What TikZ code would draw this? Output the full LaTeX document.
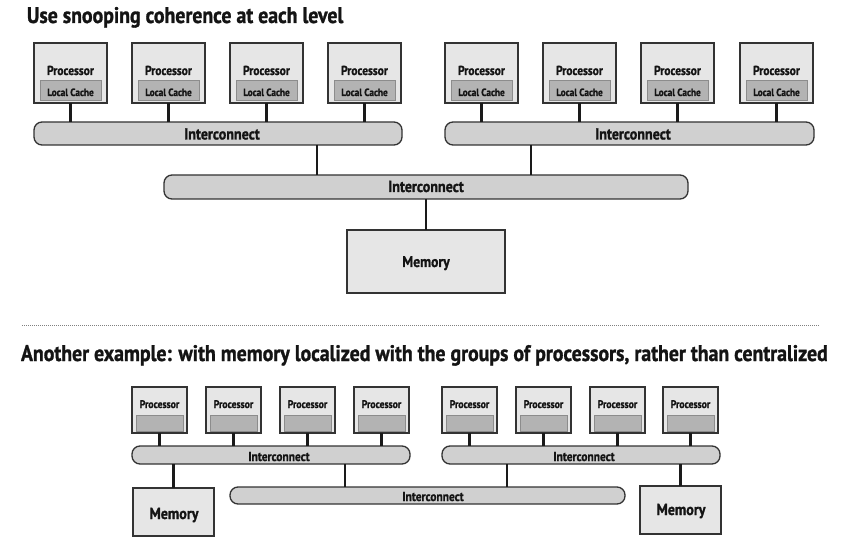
\documentclass[tikz,border=0pt]{standalone}
\usepackage{fontspec}
\newfontfamily\cf{PT Sans}[FakeStretch=0.88, BoldFeatures={FakeBold=1.2}]
\definecolor{boxfill}{HTML}{E6E6E6}
\definecolor{cachefill}{HTML}{B3B3B3}
\definecolor{cachebord}{HTML}{8C8C8C}
\definecolor{icfill}{HTML}{D0D0D0}
\definecolor{bord}{HTML}{333333}
\definecolor{wirec}{HTML}{1A1A1A}
\definecolor{txt}{HTML}{141414}
\newcommand\mybox[7]{%
  \node[#2, minimum width={((#5)-(#3))*1pt}, minimum height={((#6)-(#4))*1pt}]
    (#1) at ({((#3)+(#5))/2},{((#4)+(#6))/2}) {#7};}
\newcommand\fs[1]{\fontsize{#1}{#1}\selectfont}
\begin{document}
\begin{tikzpicture}[x=1pt,y=-1pt,
  every node/.style={inner sep=0pt, outer sep=0pt, font=\cf\bfseries, text=txt},
  proc/.style={draw=bord, fill=boxfill, line width=1.3pt},
  cache/.style={draw=cachebord, fill=cachefill, line width=1pt},
  ic/.style={draw=bord, fill=icfill, line width=1.3pt, rounded corners=8pt},
  mem/.style={draw=bord, fill=boxfill, line width=1.3pt},
  wire/.style={draw=wirec, line width=2.4pt},
  lbl/.style={anchor=base},
  ttl/.style={anchor=base west, font=\cf\bfseries\fs{22.5}},
  sep/.style={draw=gray, line width=0.8pt, dash pattern=on 0.8pt off 1.2pt}
]
\useasboundingbox (0,0) rectangle (849,548);

% ---------- top section ----------
\node[ttl] (title1) at (27,23) {Use snooping coherence at each level};

\mybox{IA}{ic}{34}{122}{402}{145}{}
\mybox{IB}{ic}{445}{122}{814}{145}{}
\mybox{IM}{ic}{164}{175}{688}{199}{}
\mybox{MEM}{mem}{347}{230}{505}{293}{}
\node[lbl, font=\cf\bfseries\fs{16}] (IAt) at (222,139.5) {Interconnect};
\node[lbl, font=\cf\bfseries\fs{16}] (IBt) at (633,139.5) {Interconnect};
\node[lbl, font=\cf\bfseries\fs{16}] (IMt) at (426,192) {Interconnect};
\node[lbl, font=\cf\bfseries\fs{15.5}] (MEMt) at (426,267) {Memory};

\foreach \i/\x in {1/34,2/132,3/230,4/328,5/445,6/543,7/641,8/740} {
  \mybox{P\i}{proc}{\x}{43}{\x+73}{103}{}
  \mybox{C\i}{cache}{\x+6}{81}{\x+67}{101}{}
  \node[lbl, font=\cf\bfseries\fs{13}] (PT\i) at (\x+36.5,75) {Processor};
  \node[lbl, font=\cf\bfseries\fs{10.5}] (CT\i) at (\x+36.5,96) {Local Cache};
}
\foreach \i in {1,2,3,4} { \draw[wire] (P\i.south) -- (P\i.south |- IA.north); }
\foreach \i in {5,6,7,8} { \draw[wire] (P\i.south) -- (P\i.south |- IB.north); }
\coordinate (ta) at (317,0);
\coordinate (tb) at (531,0);
\draw[wire] (IA.south -| ta) -- (IM.north -| ta);
\draw[wire] (IB.south -| tb) -- (IM.north -| tb);
\draw[wire] (IM.south -| MEM.north) -- (MEM.north);

% separator
\coordinate (sl) at (22,325);
\coordinate (sr) at (819,325);
\draw[sep] (sl) -- (sr);

% ---------- bottom section ----------
\node[ttl] (title2) at (21,361) {Another example: with memory localized with the groups of processors, rather than centralized};

\mybox{IC}{ic}{132}{446}{410}{464}{}
\mybox{ID}{ic}{442}{446}{720}{464}{}
\mybox{IX}{ic}{230}{487}{625}{504}{}
\mybox{ML}{mem}{133}{488}{214}{536}{}
\mybox{MR}{mem}{640}{486}{721}{534}{}
\node[lbl, font=\cf\bfseries\fs{13}] (ICt) at (279,461) {Interconnect};
\node[lbl, font=\cf\bfseries\fs{13}] (IDt) at (584,461) {Interconnect};
\node[lbl, font=\cf\bfseries\fs{13}] (IXt) at (433,501) {Interconnect};
\node[lbl, font=\cf\bfseries\fs{16}] (MLt) at (174,519) {Memory};
\node[lbl, font=\cf\bfseries\fs{16}] (MRt) at (681,515) {Memory};

\foreach \i/\x in {1/132,2/206,3/280,4/354,5/442,6/516,7/590,8/663} {
  \mybox{Q\i}{proc}{\x}{387}{\x+55}{433}{}
  \mybox{D\i}{cache}{\x+4}{415}{\x+51}{431}{}
  \node[lbl, font=\cf\bfseries\fs{11}] (QT\i) at (\x+27.5,408) {Processor};
}
\foreach \i in {1,2,3,4} { \draw[wire] (Q\i.south) -- (Q\i.south |- IC.north); }
\foreach \i in {5,6,7,8} { \draw[wire] (Q\i.south) -- (Q\i.south |- ID.north); }
\coordinate (ba) at (345,0);
\coordinate (bb) at (507,0);
\draw[wire] (IC.south -| ba) -- (IX.north -| ba);
\draw[wire] (ID.south -| bb) -- (IX.north -| bb);
\draw[wire] (IC.south -| ML.north) -- (ML.north);
\draw[wire] (ID.south -| MR.north) -- (MR.north);
\end{tikzpicture}
\end{document}
